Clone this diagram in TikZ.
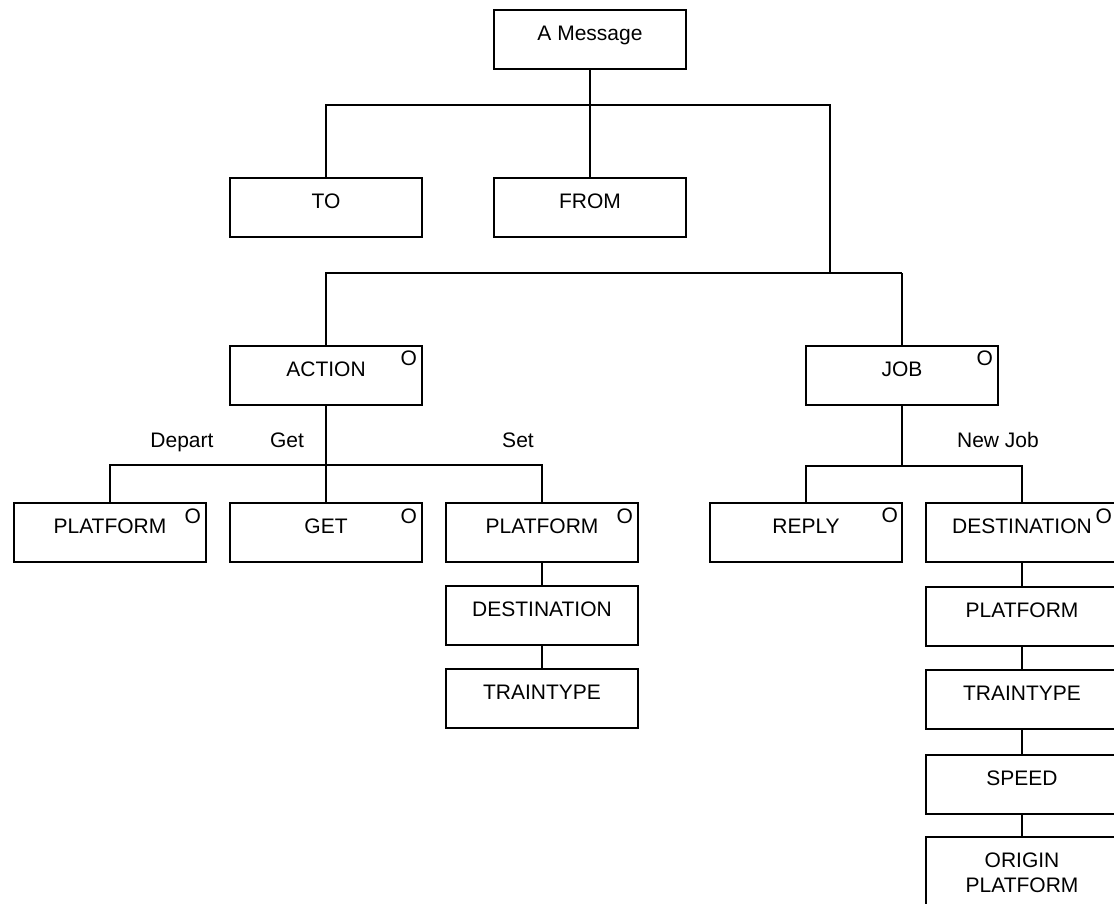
\documentclass[tikz,border=0pt]{standalone}
\usepackage{fontspec}
\setmainfont{Liberation Sans}
\begin{document}
\begin{tikzpicture}[x=1pt,y=-1pt,
  txt/.style={font=\fontsize{21}{25}\selectfont},
  box/.style={txt,draw,line width=1.8pt,minimum width=192pt,inner sep=0pt,
    text height=31pt,text depth=28pt,anchor=north,align=center},
  tallbox/.style={box,text height=56pt,text depth=20pt},
  opt/.style={txt,inner sep=0pt,anchor=center},
  lab/.style={txt,inner sep=0pt,anchor=base},
  wire/.style={line width=1.8pt}]
\useasboundingbox (0,0) rectangle (1114,904);
\clip (0,0) rectangle (1114,904);

% message header
\node[box] (msg)  at (590,9)   {A Message};
\node[box] (to)   at (326,177) {TO};
\node[box] (from) at (590,177) {FROM};

% optional parts
\node[box] (action) at (326,345) {ACTION};
\node[box] (job)    at (902,345) {JOB};

% action variants
\node[box] (plat1) at (110,502) {PLATFORM};
\node[box] (get)   at (326,502) {GET};
\node[box] (plat2) at (542,502) {PLATFORM};
\node[box] (dest1) at (542,585) {DESTINATION};
\node[box] (tt1)   at (542,668) {TRAINTYPE};

% job variants
\node[box] (reply)  at (806,502)  {REPLY};
\node[box] (dest2)  at (1022,502) {DESTINATION};
\node[box] (plat3)  at (1022,586) {PLATFORM};
\node[box] (tt2)    at (1022,669) {TRAINTYPE};
\node[box] (speed)  at (1022,754) {SPEED};
\node[tallbox] (orig) at (1022,836) {ORIGIN\\PLATFORM};

% optional markers
\node[opt] (actionO) at ([xshift=-14pt,yshift=-13pt]action.north east) {O};
\node[opt] (jobO)    at ([xshift=-14pt,yshift=-13.5pt]job.north east) {O};
\node[opt] (plat1O)  at ([xshift=-14pt,yshift=-14pt]plat1.north east) {O};
\node[opt] (getO)    at ([xshift=-14pt,yshift=-14pt]get.north east) {O};
\node[opt] (plat2O)  at ([xshift=-14pt,yshift=-14pt]plat2.north east) {O};
\node[opt] (replyO)  at ([xshift=-13pt,yshift=-13.5pt]reply.north east) {O};
\node[opt] (dest2O)  at ([xshift=-15pt,yshift=-14pt]dest2.north east) {O};

% branch labels
\node[lab] (ldepart) at (182,447) {Depart};
\node[lab] (lget)    at (287,447) {Get};
\node[lab] (lset)    at (518,447) {Set};
\node[lab] (lnew)    at (998,447) {New Job};

% junctions
\coordinate (j1) at (590,105);
\coordinate (j2) at (830,273);
\coordinate (j3) at (902,273);
\coordinate (j4) at (326,465);
\coordinate (j5) at (902,466);

\draw[wire] (msg.south) -- (j1);
\draw[wire] (to.north) |- (j1);
\draw[wire] (j1) -- (from.north);
\draw[wire] (j1) -| (j2);
\draw[wire] (action.north) |- (j3);
\draw[wire] (j3) -- (job.north);

\draw[wire] (action.south) -- (j4);
\draw[wire] (plat1.north) |- (j4);
\draw[wire] (j4) -- (get.north);
\draw[wire] (j4) -| (plat2.north);
\draw[wire] (plat2.south) -- (dest1.north);
\draw[wire] (dest1.south) -- (tt1.north);

\draw[wire] (job.south) -- (j5);
\draw[wire] (reply.north) |- (j5);
\draw[wire] (j5) -| (dest2.north);
\draw[wire] (dest2.south) -- (plat3.north);
\draw[wire] (plat3.south) -- (tt2.north);
\draw[wire] (tt2.south) -- (speed.north);
\draw[wire] (speed.south) -- (orig.north);
\end{tikzpicture}
\end{document}
